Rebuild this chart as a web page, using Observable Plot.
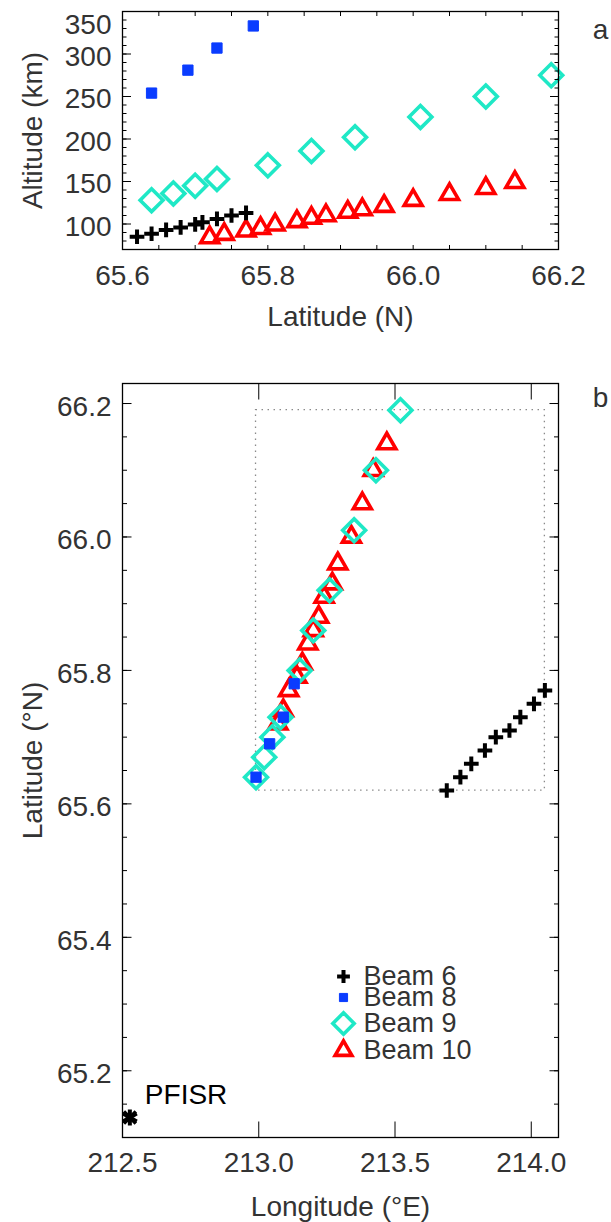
<!DOCTYPE html>
<html><head><meta charset="utf-8">
<script src="https://cdn.jsdelivr.net/npm/d3@7"></script>
<script src="https://cdn.jsdelivr.net/npm/@observablehq/plot@0.6"></script>
<style>
body{margin:0;background:#fff;}
#chart{position:relative;width:611px;height:1222px;}
#chart svg{display:block;}
</style></head><body><div id="chart"></div>
<script>
// ---- data ----
const beam6Lat = [65.62,65.64,65.66,65.68,65.70,65.71,65.73,65.75,65.77];
const beam6Lon = [213.69,213.74,213.78,213.83,213.87,213.92,213.96,214.01,214.05];
const beam6Alt = [85,88.5,93,96,99.5,102,106,110,113];
const beam8Lat = [65.64,65.69,65.73,65.78];
const beam8Lon = [212.99,213.04,213.09,213.13];
const beam8Alt = [254,281,307,333];
const beam9Lat = [65.64,65.67,65.70,65.73,65.80,65.86,65.92,66.01,66.10,66.19];
const beam9Lon = [212.99,213.02,213.05,213.08,213.15,213.20,213.26,213.35,213.43,213.52];
const beam9Alt = [128,136,145,153,169,186,202,226,250,275];
const beam10Lat = [65.72,65.74,65.77,65.79,65.81,65.84,65.86,65.88,65.91,65.93,65.96,66.00,66.05,66.10,66.14];
const beam10Lon = [213.07,213.09,213.11,213.14,213.16,213.18,213.20,213.22,213.24,213.27,213.29,213.34,213.38,213.42,213.47];
const beam10Alt = [84,88,92,95,99,103,107,110,114,117,121,128,135,142,149];
const pfisrSite = [{name:"PFISR", lon:212.527, lat:65.13}];
const beamNames = ["Beam 6","Beam 8","Beam 9","Beam 10"];
const altTicks = [100,150,200,250,300,350];
const altMinorTicks = d3.range(70, 351, 10);
const latTicksA = [65.6,65.8,66.0,66.2];
const latMinorTicksA = d3.range(65.6, 66.2001, 0.05).map(v => +v.toFixed(2));
const lonTicks = [212.5,213.0,213.5,214.0];
const latTicksB = [65.2,65.4,65.6,65.8,66.0,66.2];
const latMinorTicksB = d3.range(65.1, 66.2301, 0.05).map(v => +v.toFixed(2));

// ---- tables ----
const mk = (lat, lon, alt) => lat.map((v, i) => ({lat: v, lon: lon[i], alt: alt[i]}));
const beams = [mk(beam6Lat, beam6Lon, beam6Alt), mk(beam8Lat, beam8Lon, beam8Alt),
               mk(beam9Lat, beam9Lon, beam9Alt), mk(beam10Lat, beam10Lon, beam10Alt)];
const allPts = beams.flat();
const bbox = [{x1: d3.min(allPts, d => d.lon), x2: d3.max(allPts, d => d.lon),
               y1: d3.min(allPts, d => d.lat), y2: d3.max(allPts, d => d.lat)}];

// ---- styles ----
const FONT = "'Liberation Sans', Arial, Helvetica, sans-serif";
const TXT = "#333";
const styles = [
  {symbol: "plus", stroke: "#000", fill: "none", r: 4.8, strokeWidth: 4},
  {symbol: "square", stroke: "#0a3cff", fill: "#0a3cff", r: 5.8, strokeWidth: 1},
  {symbol: "diamond2", stroke: "#1fe8c6", fill: "none", r: 10.3, strokeWidth: 3.6},
  {symbol: "triangle2", stroke: "#ff0000", fill: "none", r: 8.6, strokeWidth: 3.6}
];
const legendR = [4.2, 4.6, 9.6, 8];
const drawOrder = [3, 2, 1, 0];
const W = 611, ML = 122, MR = 53;
const chart = document.getElementById("chart");
const noLbl = () => "";

// ---- panel a ----
const topPlot = Plot.plot({
  width: W, height: 340,
  marginLeft: ML, marginRight: MR, marginTop: 11, marginBottom: 91,
  style: {fontFamily: FONT, fontSize: "28px", color: TXT, background: "white", overflow: "visible"},
  x: {domain: [65.6, 66.2], axis: null},
  y: {domain: [70, 350], axis: null},
  marks: [
    ...drawOrder.map(i => Plot.dot(beams[i], {x: "lat", y: "alt", ...styles[i]})),
    Plot.axisY(altMinorTicks, {anchor: "left", tickSize: -4.5, tickFormat: noLbl, label: null, stroke: "#000"}),
    Plot.axisY(altMinorTicks, {anchor: "right", tickSize: -4.5, tickFormat: noLbl, label: null, stroke: "#000"}),
    Plot.axisY(altTicks, {anchor: "left", tickSize: -9, tickFormat: noLbl, label: null, stroke: "#000"}),
    Plot.axisY(altTicks, {anchor: "right", tickSize: -9, tickFormat: noLbl, label: null, stroke: "#000"}),
    Plot.axisX(latMinorTicksA, {anchor: "bottom", tickSize: -4, tickFormat: noLbl, label: null, stroke: "#000"}),
    Plot.axisX(latMinorTicksA, {anchor: "top", tickSize: -4, tickFormat: noLbl, label: null, stroke: "#000"}),
    Plot.frame({stroke: "#000", strokeWidth: 1.3}),
    Plot.text(altTicks.filter(v => v < 350), {y: d => d, text: d => String(d), frameAnchor: "left", dx: -11, dy: 3, textAnchor: "end", lineAnchor: "middle", fill: TXT, fontSize: 28}),
    Plot.text(altTicks.filter(v => v >= 350), {y: d => d, text: d => String(d), frameAnchor: "left", dx: -11, dy: 14, textAnchor: "end", lineAnchor: "middle", fill: TXT, fontSize: 28}),
    Plot.text(latTicksA, {x: d => d, text: d => d.toFixed(1), frameAnchor: "bottom", dy: 27, textAnchor: "middle", lineAnchor: "middle", fill: TXT, fontSize: 28}),
    Plot.text(["Latitude (N)"], {frameAnchor: "bottom", dy: 68, textAnchor: "middle", lineAnchor: "middle", fill: TXT, fontSize: 28}),
    Plot.text(["Altitude (km)"], {frameAnchor: "left", dx: -89, rotate: -90, textAnchor: "middle", lineAnchor: "middle", fill: TXT, fontSize: 28}),
    Plot.text(["a"], {frameAnchor: "top-right", dx: 42, dy: 19, textAnchor: "middle", lineAnchor: "middle", fill: TXT, fontSize: 28})
  ]
});
chart.appendChild(topPlot);

// ---- panel b ----
const legendDy = [-161, -140, -114, -87];
const legendMarks = [];
beamNames.forEach((name, i) => {
  legendMarks.push(Plot.dot([name], {frameAnchor: "bottom-left", dx: 221, dy: legendDy[i], ...styles[i], r: legendR[i]}));
  legendMarks.push(Plot.text([name], {frameAnchor: "bottom-left", dx: 241, dy: legendDy[i], text: d => d,
    textAnchor: "start", lineAnchor: "middle", fill: TXT, fontSize: 27}));
});

const botPlot = Plot.plot({
  width: W, height: 882,
  marginLeft: ML, marginRight: MR, marginTop: 43, marginBottom: 85,
  style: {fontFamily: FONT, fontSize: "28px", color: TXT, background: "white", overflow: "visible"},
  x: {domain: [212.5, 214.1], axis: null},
  y: {domain: [65.1, 66.23], axis: null},
  marks: [
    Plot.rect(bbox, {x1: "x1", x2: "x2", y1: "y1", y2: "y2", fill: "none", stroke: "#8a8a8a", strokeWidth: 1.3, strokeDasharray: "1.5,4.5"}),
    ...drawOrder.map(i => Plot.dot(beams[i], {x: "lon", y: "lat", ...styles[i]})),
    Plot.dot(pfisrSite, {x: "lon", y: "lat", symbol: "asterisk", r: 7.5, stroke: "#000", strokeWidth: 4}),
    Plot.dot(pfisrSite, {x: "lon", y: "lat", symbol: "times", r: 5.5, stroke: "#000", strokeWidth: 3.5}),
    Plot.text(pfisrSite, {x: "lon", y: "lat", text: "name", dx: 15, dy: -22, textAnchor: "start", lineAnchor: "middle", fill: "#000", fontSize: 28}),
    Plot.axisY(latMinorTicksB, {anchor: "left", tickSize: -5, tickFormat: noLbl, label: null, stroke: "#000"}),
    Plot.axisY(latMinorTicksB, {anchor: "right", tickSize: -5, tickFormat: noLbl, label: null, stroke: "#000"}),
    Plot.axisY(latTicksB, {anchor: "left", tickSize: -9.5, tickFormat: noLbl, label: null, stroke: "#000"}),
    Plot.axisY(latTicksB, {anchor: "right", tickSize: -9.5, tickFormat: noLbl, label: null, stroke: "#000"}),
    Plot.axisX(lonTicks, {anchor: "bottom", tickSize: -15.5, tickFormat: noLbl, label: null, stroke: "#000"}),
    Plot.axisX(lonTicks, {anchor: "top", tickSize: -15.5, tickFormat: noLbl, label: null, stroke: "#000"}),
    Plot.frame({stroke: "#000", strokeWidth: 1.3}),
    Plot.text(latTicksB, {y: d => d, text: d => d.toFixed(1), frameAnchor: "left", dx: -11, dy: 3.5, textAnchor: "end", lineAnchor: "middle", fill: TXT, fontSize: 28}),
    Plot.text(lonTicks, {x: d => d, text: d => d.toFixed(1), frameAnchor: "bottom", dy: 26, textAnchor: "middle", lineAnchor: "middle", fill: TXT, fontSize: 28}),
    Plot.text(["Longitude (°E)"], {frameAnchor: "bottom", dy: 70, textAnchor: "middle", lineAnchor: "middle", fill: TXT, fontSize: 28}),
    Plot.text(["Latitude (°N)"], {frameAnchor: "left", dx: -89, rotate: -90, textAnchor: "middle", lineAnchor: "middle", fill: TXT, fontSize: 28}),
    Plot.text(["b"], {frameAnchor: "top-right", dx: 42, dy: 15, textAnchor: "middle", lineAnchor: "middle", fill: TXT, fontSize: 28}),
    ...legendMarks
  ]
});
chart.appendChild(botPlot);
</script>
</body></html>
